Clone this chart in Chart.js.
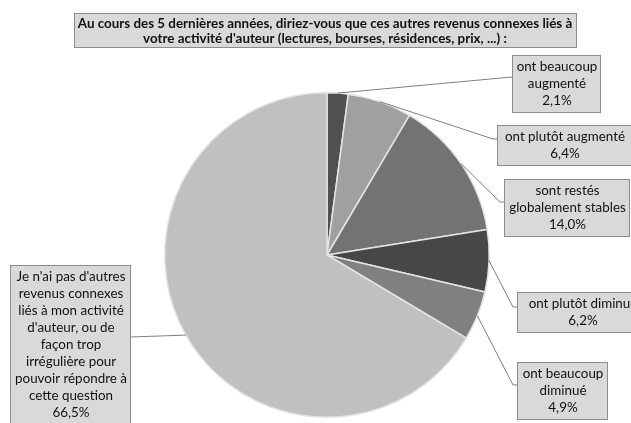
<!DOCTYPE html>
<html lang="fr">
<head>
    <meta charset="UTF-8">
    <title>Revenus connexes</title>
    <script src="https://cdn.jsdelivr.net/npm/chart.js"></script>
    <style>
        body {
            margin: 0;
            background: #fff;
        }
        #wrap {
            width: 631px;
            height: 423px;
        }
    </style>
</head>
<body>
<div id="wrap">
    <canvas id="pie" width="631" height="423"></canvas>
</div>
<script>
    // data
    const titleLines = [
        "Au cours des 5 dernières années, diriez-vous que ces autres revenus connexes liés à",
        "votre activité d'auteur (lectures, bourses, résidences, prix, ...) :"
    ];
    const categories = [
        ["ont beaucoup", "augmenté"],
        ["ont plutôt augmenté"],
        ["sont restés", "globalement stables"],
        ["ont plutôt diminué"],
        ["ont beaucoup", "diminué"],
        ["Je n'ai pas d'autres", "revenus connexes", "liés à mon activité", "d'auteur, ou de", "façon trop", "irrégulière pour", "pouvoir répondre à", "cette question"]
    ];
    const percents = [2.1, 6.4, 14.0, 6.2, 4.9, 66.5];
    const sliceColors = ["#505050", "#a0a0a0", "#737373", "#474747", "#808080", "#c0c0c0"];

    // label boxes: x, y, w and the elbow point of the leader line
    const boxes = [
        { x: 512, y: 55, w: 88, ax: 512, ay: 77 },
        { x: 497, y: 125, w: 134, ax: 493, ay: 139 },
        { x: 504, y: 179, w: 125, ax: 500, ay: 202 },
        { x: 517, y: 292, w: 130, ax: 513, ay: 307 },
        { x: 517, y: 362, w: 90, ax: 513, ay: 385 },
        { x: 10, y: 265, w: 120, ax: 130, ay: 337 }
    ];

    const FONT = "Lato, 'Open Sans', sans-serif";

    function fmt(v) {
        return v.toFixed(1).replace('.', ',') + '%';
    }

    const labelBoxes = {
        id: 'labelBoxes',
        afterDraw(chart) {
            const c = chart.ctx;
            const meta = chart.getDatasetMeta(0);
            c.save();

            // title
            c.fillStyle = '#d9d9d9';
            c.strokeStyle = '#8c8c8c';
            c.lineWidth = 1;
            c.fillRect(74.5, 13.5, 502, 34);
            c.strokeRect(74.5, 13.5, 502, 34);
            c.fillStyle = '#111';
            c.font = "bold 13.4px " + FONT;
            c.textAlign = 'center';
            c.textBaseline = 'middle';
            titleLines.forEach((t, i) => c.fillText(t, 325, 24 + i * 14.5));

            // leader lines
            c.strokeStyle = '#7f7f7f';
            c.lineWidth = 1;
            meta.data.forEach((arc, i) => {
                const b = boxes[i];
                const mid = (arc.startAngle + arc.endAngle) / 2;
                const px = arc.x + Math.cos(mid) * arc.outerRadius;
                const py = arc.y + Math.sin(mid) * arc.outerRadius;
                c.beginPath();
                c.moveTo(px, py);
                c.lineTo(b.ax, b.ay);
                if (i < 5) c.lineTo(b.x, b.ay);
                c.stroke();
            });

            // boxes with text
            c.font = "13.4px " + FONT;
            categories.forEach((lines, i) => {
                const b = boxes[i];
                const all = lines.concat([fmt(percents[i])]);
                const h = all.length * 17 + 6;
                c.fillStyle = '#d9d9d9';
                c.strokeStyle = '#8c8c8c';
                c.fillRect(b.x + 0.5, b.y + 0.5, b.w, h);
                c.strokeRect(b.x + 0.5, b.y + 0.5, b.w, h);
                c.fillStyle = '#111';
                all.forEach((t, k) => c.fillText(t, b.x + b.w / 2 + 1, b.y + 12 + k * 17));
            });
            c.restore();
        }
    };

    new Chart(document.getElementById('pie'), {
        type: 'pie',
        data: {
            labels: categories,
            datasets: [{
                data: percents,
                backgroundColor: sliceColors,
                borderColor: '#e4e4e4',
                borderWidth: 1.5
            }]
        },
        options: {
            responsive: false,
            animation: false,
            layout: {
                padding: { left: 164, right: 141, top: 92, bottom: 5 }
            },
            plugins: {
                legend: { display: false },
                tooltip: { enabled: false }
            }
        },
        plugins: [labelBoxes]
    });
</script>
</body>
</html>
